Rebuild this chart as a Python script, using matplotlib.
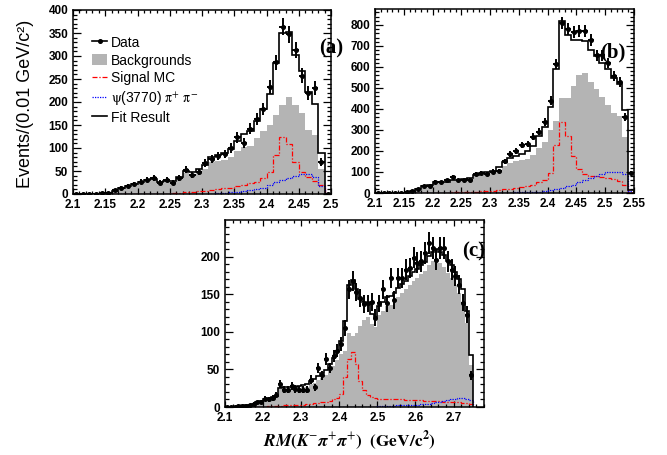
import numpy as np
import matplotlib
matplotlib.use("Agg")
import matplotlib.pyplot as plt
from matplotlib.ticker import MultipleLocator, FuncFormatter
from matplotlib.lines import Line2D
from matplotlib.patches import Patch

plt.rcParams["mathtext.fontset"] = "stix"

BIN = 0.01  # GeV/c^2 per bin
GRAY = "#b4b4b4"
SANS = "Liberation Sans"
SERIF = "Liberation Serif"

# ---------------- panel (a) : 2.10 - 2.50 ----------------
data_a = [0, 1, 0, 1, 2, 3, 8, 13, 18, 22,
          27, 31, 35, 25, 31, 25, 35, 53, 42, 48,
          67, 76, 82, 87, 100, 123, 111, 142, 163, 185,
          232, 286, 364, 347, 313, 257, 219, 230, 69, 0]
bkg_a = [0, 0, 0, 0, 1, 2, 7, 12, 17, 22,
         26, 30, 32, 25, 28, 27, 35, 45, 42, 48,
         55, 70, 72, 75, 80, 93, 103, 105, 121, 136,
         150, 172, 194, 210, 194, 176, 140, 129, 54, 0]
sig_a = [0, 0, 0, 0, 0, 0, 0, 0, 0, 0,
         0, 0, 0, 1, 1, 2, 3, 4, 5, 6,
         7, 9, 11, 12, 14, 17, 20, 24, 27, 35,
         48, 85, 125, 108, 69, 48, 38, 29, 19, 0]
psi_a = [0, 0, 0, 0, 0, 0, 0, 0, 0, 0,
         0, 0, 0, 0, 0, 0, 0, 0, 1, 1,
         1, 1, 2, 3, 4, 5, 7, 9, 11, 14,
         20, 27, 31, 35, 40, 43, 44, 38, 17, 0]

# ---------------- panel (b) : 2.10 - 2.55 ----------------
data_b = [0, 0, 1, 0, 1, 3, 8, 17, 32, 33,
          54, 52, 60, 75, 60, 60, 63, 90, 95, 89,
          102, 105, 150, 185, 200, 228, 234, 268, 292, 338,
          440, 614, 810, 780, 766, 770, 772, 728, 656, 655,
          620, 555, 528, 364, 97]
bkg_b = [0, 0, 0, 0, 0, 2, 8, 18, 34, 36,
         50, 50, 52, 60, 60, 62, 65, 80, 85, 90,
         95, 110, 127, 145, 150, 155, 160, 180, 215, 245,
         300, 345, 453, 450, 510, 562, 571, 530, 495, 455,
         420, 381, 366, 265, 0]
sig_b = [0, 0, 0, 0, 0, 0, 0, 0, 0, 1,
         1, 2, 2, 3, 3, 4, 5, 6, 8, 9,
         11, 14, 17, 20, 24, 29, 35, 40, 50, 63,
         95, 227, 340, 270, 177, 116, 92, 82, 79, 76,
         73, 66, 55, 40, 5]
psi_b = [0, 0, 0, 0, 0, 0, 0, 0, 0, 0,
         0, 0, 0, 0, 0, 0, 0, 0, 0, 0,
         0, 1, 2, 2, 3, 3, 4, 5, 6, 8,
         13, 19, 24, 32, 40, 51, 63, 71, 79, 90,
         98, 101, 100, 92, 10]

# ---------------- panel (c) : 2.10 - 2.75 ----------------
data_c = [0, 0, 0, 1, 1, 1, 2, 4, 6, 6,
          11, 10, 12, 16, 31, 23, 23, 28, 24, 23,
          23, 23, 36, 26, 52, 42, 64, 52, 68, 75,
          84, 105, 157, 168, 153, 145, 137, 138, 140, 119,
          138, 157, 138, 172, 143, 172, 172, 183, 185, 199,
          192, 194, 205, 218, 212, 196, 212, 212, 194, 183,
          174, 163, 139, 123, 42]
bkg_c = [0, 0, 0, 1, 1, 2, 3, 4, 6, 8,
         10, 11, 12, 14, 24, 24, 25, 25, 24, 25,
         26, 27, 30, 32, 36, 39, 42, 49, 55, 62,
         71, 74, 98, 95, 99, 108, 116, 120, 110, 107,
         122, 128, 134, 136, 140, 146, 152, 157, 163, 168,
         172, 177, 181, 189, 194, 196, 192, 187, 178, 172,
         163, 152, 140, 112, 56]
sig_c = [0, 0, 0, 0, 0, 0, 0, 0, 0, 0,
         0.5, 1, 1, 1, 1.5, 2, 2, 2, 3, 3,
         3, 4, 4, 5, 5, 6, 7, 8, 10, 12,
         17, 40, 64, 73, 57, 35, 23, 16, 13, 12,
         11, 11, 11, 10, 10, 10, 10, 9, 9, 9,
         9, 9, 8, 8, 8, 8, 8, 7, 7, 7,
         6, 6, 5, 5, 4]
psi_c = [0, 0, 0, 0, 0, 0, 0, 0, 0, 0,
         0, 0, 0, 0, 0, 0, 0, 0, 0, 0,
         0, 0, 0, 0, 0, 0.5, 0.5, 0.5, 0.5, 0.5,
         0.5, 0.5, 0.5, 0.5, 0.5, 0.5, 0.5, 0.5, 0.5, 0.5,
         1, 1, 1, 1.5, 1.5, 2, 2, 2, 2.5, 3,
         3, 3.5, 4, 4.5, 5, 6, 7, 8, 9, 10,
         11, 12, 12, 11, 9]

W, H = 667, 455
fig = plt.figure(figsize=(W / 100, H / 100), dpi=100)

SIG_LS = (0, (4, 1.5, 1, 1.5))
PSI_LS = (0, (1, 1))


def axes_px(left, top, right, bottom):
    return fig.add_axes([left / W, 1 - bottom / H, (right - left) / W, (bottom - top) / H])


def fmt(v, _):
    return "%g" % round(v, 3)


def draw_panel(ax, lo, data, bkg, sig, psi, xlim, ylim, xmaj, xmin, ymaj, ymin):
    data = np.asarray(data, float)
    bkg = np.asarray(bkg, float)
    sig = np.asarray(sig, float)
    psi = np.asarray(psi, float)
    edges = lo + BIN * np.arange(len(data) + 1)
    centers = edges[:-1] + BIN / 2
    fit = bkg + sig + psi

    ax.stairs(bkg, edges, fill=True, color=GRAY, lw=0, zorder=1)
    ax.stairs(sig, edges, baseline=0, color="red", ls=SIG_LS, lw=0.9, zorder=2)
    ax.stairs(psi, edges, baseline=0, color="blue", ls=PSI_LS, lw=0.9, zorder=2)
    ax.stairs(fit, edges, baseline=0, color="black", lw=1.2, zorder=3)
    ax.errorbar(centers, data, yerr=np.sqrt(data), xerr=BIN / 2, fmt="o", ms=2.6,
                color="black", elinewidth=1.4, capsize=0, zorder=4)

    ax.set_xlim(*xlim)
    ax.set_ylim(*ylim)
    ax.xaxis.set_major_locator(MultipleLocator(xmaj))
    ax.xaxis.set_minor_locator(MultipleLocator(xmin))
    ax.yaxis.set_major_locator(MultipleLocator(ymaj))
    ax.yaxis.set_minor_locator(MultipleLocator(ymin))
    ax.xaxis.set_major_formatter(FuncFormatter(fmt))
    ax.yaxis.set_major_formatter(FuncFormatter(fmt))
    ax.tick_params(which="both", direction="in", top=True, right=True, width=0.9)
    ax.tick_params(axis="x", which="major", length=4.5, pad=3.8)
    ax.tick_params(axis="x", which="minor", length=2.3)
    ax.tick_params(axis="y", which="major", length=5.5, pad=3.5)
    ax.tick_params(axis="y", which="minor", length=2.8)
    for lab in ax.get_xticklabels() + ax.get_yticklabels():
        lab.set_fontfamily(SANS)
        lab.set_fontweight("bold")
        lab.set_fontsize(8.5)
    for sp in ax.spines.values():
        sp.set_linewidth(1.1)


ax_a = axes_px(73, 10, 331, 194)
draw_panel(ax_a, 2.10, data_a, bkg_a, sig_a, psi_a, (2.1, 2.5), (0, 400), 0.05, 0.01, 50, 10)

ax_b = axes_px(375, 9, 634, 193)
draw_panel(ax_b, 2.10, data_b, bkg_b, sig_b, psi_b, (2.1, 2.55), (0, 876), 0.05, 0.01, 100, 20)

ax_c = axes_px(225, 220, 484, 407)
draw_panel(ax_c, 2.10, data_c, bkg_c, sig_c, psi_c, (2.1, 2.78), (0, 249), 0.1, 0.02, 50, 10)

# legend
handles = [
    Line2D([], [], color="black", marker="o", ms=2.6, lw=1.2),
    Patch(facecolor=GRAY, edgecolor="none"),
    Line2D([], [], color="red", ls=SIG_LS, lw=0.9),
    Line2D([], [], color="blue", ls=PSI_LS, lw=0.9),
    Line2D([], [], color="black", lw=1.2),
]
labels = ["Data", "Backgrounds", "Signal MC",
          r"$\mathrm{\psi}$(3770) $\mathrm{\pi}^{+}$ $\mathrm{\pi}^{-}$", "Fit Result"]
leg = ax_a.legend(handles, labels, loc="upper left", bbox_to_anchor=(0.075, 0.86),
                  frameon=False, borderpad=0, borderaxespad=0, handlelength=1.05,
                  handleheight=0.9, handletextpad=0.3, labelspacing=0.27,
                  prop={"family": SANS, "size": 10})

# panel tags
for tag, x, y in [("(a)", 331, 48), ("(b)", 613, 52), ("(c)", 474, 251)]:
    fig.text(x / W, 1 - y / H, tag, ha="center", va="center",
             fontfamily=SERIF, fontweight="bold", fontsize=15)

# axis titles
fig.text(26 / W, 1 - 104 / H, "Events/(0.01 GeV/c²)", rotation=90, ha="center", va="center",
         fontfamily=SANS, fontsize=13)
fig.text(349 / W, 1 - 441 / H,
         r"$\mathbfit{RM}\mathbf{(}\mathbfit{K}^{-}\mathbfit{\pi}^{+}\mathbfit{\pi}^{+}\mathbf{)}\ \ \mathbf{(GeV/c^{2})}$",
         ha="center", va="center", fontsize=12.5)

fig.savefig("out.png", dpi=100)
